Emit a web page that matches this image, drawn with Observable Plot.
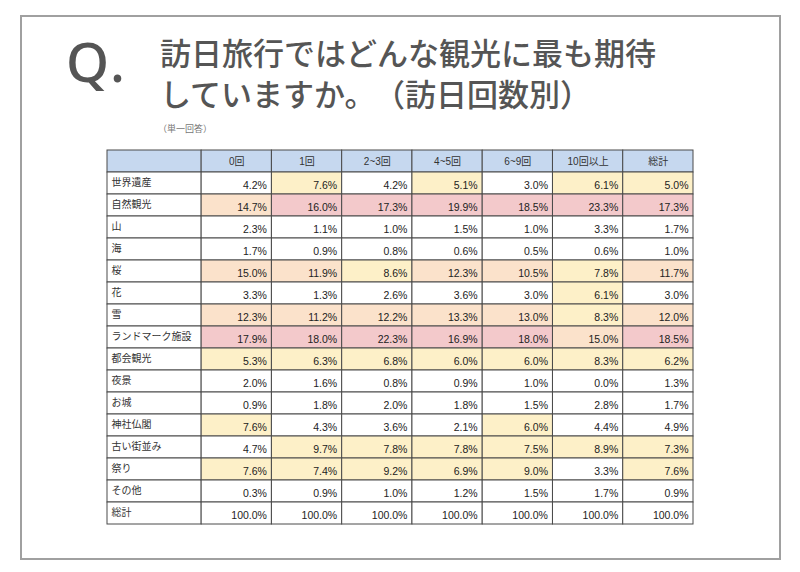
<!DOCTYPE html>
<html><head><meta charset="utf-8">
<script src="https://cdn.jsdelivr.net/npm/d3@7"></script>
<script src="https://cdn.jsdelivr.net/npm/@observablehq/plot@0.6"></script>
<style>
  html,body{margin:0;padding:0;background:#fff;width:800px;height:572px;overflow:hidden;}
  #frame{position:absolute;left:20px;top:15px;width:761px;height:545px;box-sizing:border-box;border:2px solid #a0a0a0;}
  .q{position:absolute;left:66px;top:33px;font-family:"Noto Sans","Noto Sans CJK JP",sans-serif;font-size:55px;line-height:1;color:#555;letter-spacing:3px;font-weight:500;}
  .t{position:absolute;left:160px;font-family:"Noto Sans CJK JP",sans-serif;font-size:31px;line-height:1;color:#555;font-weight:500;white-space:nowrap;}
  .sub{position:absolute;left:158px;top:122px;font-family:"Noto Sans CJK JP",sans-serif;font-size:9px;color:#777;}
  #chart{position:absolute;left:0;top:140px;}
</style>
</head><body>
<div id="frame"></div>
<div class="q">Q.</div>
<div class="t" style="top:36px">訪日旅行ではどんな観光に最も期待</div>
<div class="t" style="top:77px">していますか。<span style="margin-left:14px">（訪日回数別）</span></div>
<div class="sub">（単一回答）</div>
<div id="chart"></div>
<script>
const columns = ["0回", "1回", "2~3回", "4~5回", "6~9回", "10回以上", "総計"];
const categories = ["世界遺産", "自然観光", "山", "海", "桜", "花", "雪", "ランドマーク施設", "都会観光", "夜景", "お城", "神社仏閣", "古い街並み", "祭り", "その他", "総計"];

const worldHeritage = [4.2, 7.6, 4.2, 5.1, 3.0, 6.1, 5.0];
const nature        = [14.7, 16.0, 17.3, 19.9, 18.5, 23.3, 17.3];
const mountain      = [2.3, 1.1, 1.0, 1.5, 1.0, 3.3, 1.7];
const sea           = [1.7, 0.9, 0.8, 0.6, 0.5, 0.6, 1.0];
const sakura        = [15.0, 11.9, 8.6, 12.3, 10.5, 7.8, 11.7];
const flowers       = [3.3, 1.3, 2.6, 3.6, 3.0, 6.1, 3.0];
const snow          = [12.3, 11.2, 12.2, 13.3, 13.0, 8.3, 12.0];
const landmarks     = [17.9, 18.0, 22.3, 16.9, 18.0, 15.0, 18.5];
const city          = [5.3, 6.3, 6.8, 6.0, 6.0, 8.3, 6.2];
const nightView     = [2.0, 1.6, 0.8, 0.9, 1.0, 0.0, 1.3];
const castles       = [0.9, 1.8, 2.0, 1.8, 1.5, 2.8, 1.7];
const temples       = [7.6, 4.3, 3.6, 2.1, 6.0, 4.4, 4.9];
const oldTown       = [4.7, 9.7, 7.8, 7.8, 7.5, 8.9, 7.3];
const festivals     = [7.6, 7.4, 9.2, 6.9, 9.0, 3.3, 7.6];
const other         = [0.3, 0.9, 1.0, 1.2, 1.5, 1.7, 0.9];
const total         = [100.0, 100.0, 100.0, 100.0, 100.0, 100.0, 100.0];

const series = [worldHeritage, nature, mountain, sea, sakura, flowers, snow, landmarks, city, nightView, castles, temples, oldTown, festivals, other, total];

const HEADER = "__header__";
const LABEL_W = 1.34; // label column width in data-column units
const rows = [HEADER, ...categories];

const headerCells = [{x1: 0, x2: LABEL_W, text: ""}, ...columns.map((c, i) => ({x1: LABEL_W + i, x2: LABEL_W + i + 1, text: c}))]
  .map(d => ({...d, row: HEADER}));
const labelCells = categories.map(c => ({row: c, x1: 0, x2: LABEL_W, text: c}));
const valueCells = [];
categories.forEach((c, r) => {
  series[r].forEach((v, i) => valueCells.push({row: c, x1: LABEL_W + i, x2: LABEL_W + i + 1, value: v, isTotal: r === categories.length - 1}));
});

const border = "#4a4a4a";
const chart = Plot.plot({
  width: 800,
  height: 400,
  marginTop: 7,
  marginBottom: 13,
  marginLeft: 107,
  marginRight: 107,
  style: {fontFamily: "'Liberation Sans', 'Noto Sans CJK JP', sans-serif", background: "transparent"},
  x: {domain: [0, LABEL_W + columns.length], axis: null},
  y: {type: "band", domain: rows, padding: 0, axis: null},
  color: {type: "threshold", domain: [5, 10, 15.05], range: ["#ffffff", "#fdf0c8", "#fbe2cb", "#f3c9cb"]},
  marks: [
    Plot.barX(headerCells, {x1: "x1", x2: "x2", y: "row", fill: "#c6d8ef", stroke: border, strokeWidth: 1}),
    Plot.barX(labelCells, {x1: "x1", x2: "x2", y: "row", fill: "#ffffff", stroke: border, strokeWidth: 1}),
    Plot.barX(valueCells.filter(d => !d.isTotal), {x1: "x1", x2: "x2", y: "row", fill: "value", stroke: border, strokeWidth: 1}),
    Plot.barX(valueCells.filter(d => d.isTotal), {x1: "x1", x2: "x2", y: "row", fill: "#ffffff", stroke: border, strokeWidth: 1}),
    Plot.text(headerCells, {x: d => (d.x1 + d.x2) / 2, y: "row", text: "text", fontSize: 10, fill: "#333"}),
    Plot.text(labelCells, {x: "x1", y: "row", text: "text", textAnchor: "start", dx: 4, dy: -1, fontSize: 10, fill: "#333"}),
    Plot.text(valueCells, {x: "x2", y: "row", text: d => d.value.toFixed(1) + "%", textAnchor: "end", dx: -5, dy: 2, fontSize: 10.5, fill: "#222"})
  ]
});
document.getElementById("chart").appendChild(chart);
</script>
</body></html>
